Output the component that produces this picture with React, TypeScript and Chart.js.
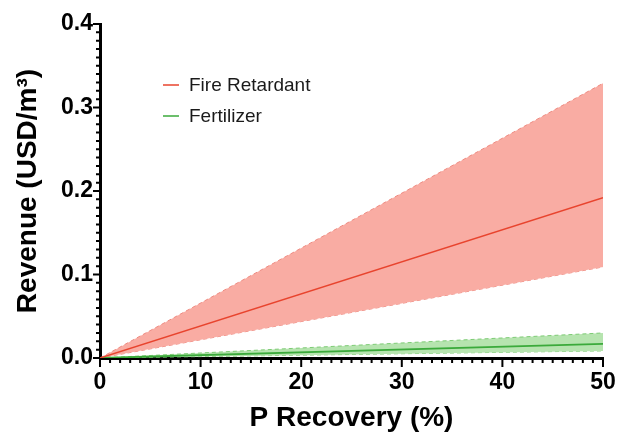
import React, { useEffect, useRef } from "react";
import { Chart, registerables } from "chart.js";

Chart.register(...registerables);

const recovery = [0, 50];
const fireMid = [0, 0.192];
const fireUpper = [0, 0.329];
const fireLower = [0, 0.109];
const fertMid = [0, 0.017];
const fertUpper = [0, 0.030];
const fertLower = [0, 0.0085];

const legendLabels = ["Fire Retardant", "Fertilizer"];
const xTicks = [0, 10, 20, 30, 40, 50];
const yTicks = [0, 0.1, 0.2, 0.3, 0.4];

const RED = "#E8442E";
const RED_EDGE = "#EE8A80";
const RED_FILL = "#F9ACA3";
const GREEN = "#3BAA3B";
const GREEN_EDGE = "#7DCB74";
const GREEN_FILL = "#B6E4AF";

const pts = (ys: number[]) => recovery.map((x, i) => ({ x, y: ys[i] }));

const tickPlugin = {
  id: "customTicks",
  afterDraw(chart: any) {
    const { ctx, scales } = chart;
    const xs = scales.x;
    const ys = scales.y;
    const axisX = chart.chartArea.left;
    const axisY = chart.chartArea.bottom;
    ctx.save();
    ctx.strokeStyle = "#000";
    ctx.lineWidth = 2;
    ctx.beginPath();
    for (let i = 0; i <= 40; i++) {
      const v = i / 100;
      const p = ys.getPixelForValue(v);
      const major = i % 10 === 0;
      ctx.moveTo(axisX - (major ? 7 : 4), p);
      ctx.lineTo(axisX, p);
    }
    for (let i = 0; i <= 50; i++) {
      const p = xs.getPixelForValue(i);
      const major = i % 10 === 0;
      ctx.moveTo(p, axisY);
      ctx.lineTo(p, axisY + (major ? 9 : 5));
    }
    ctx.stroke();
    // legend
    const colors = [RED, GREEN];
    const ly = [85, 116];
    ctx.font = "19px 'Liberation Sans', Arial, Helvetica, sans-serif";
    ctx.textBaseline = "middle";
    ctx.textAlign = "left";
    legendLabels.forEach((t, i) => {
      ctx.strokeStyle = colors[i];
      ctx.lineWidth = 1.5;
      ctx.beginPath();
      ctx.moveTo(163, ly[i]);
      ctx.lineTo(179, ly[i]);
      ctx.stroke();
      ctx.fillStyle = "#1a1a1a";
      ctx.fillText(t, 189, ly[i] + 1);
    });
    ctx.restore();
  },
};

export default function App() {
  const ref = useRef<HTMLCanvasElement>(null);
  useEffect(() => {
    if (!ref.current) return;
    const edge = (data: number[], color: string, fill: any, bg: string) => ({
      data: pts(data),
      borderColor: color,
      borderWidth: 1,
      borderDash: [4, 3],
      pointRadius: 0,
      fill,
      backgroundColor: bg,
      tension: 0,
      order: 2,
    });
    const chart = new Chart(ref.current, {
      type: "line",
      data: {
        datasets: [
          edge(fireUpper, RED_EDGE, "+1", RED_FILL),
          edge(fireLower, RED_EDGE, false, RED_FILL),
          { data: pts(fireMid), borderColor: RED, borderWidth: 1.5, pointRadius: 0, fill: false, order: 0 },
          edge(fertUpper, GREEN_EDGE, "+1", GREEN_FILL),
          edge(fertLower, GREEN_EDGE, false, GREEN_FILL),
          { data: pts(fertMid), borderColor: GREEN, borderWidth: 1.8, pointRadius: 0, fill: false, order: 0 },
        ] as any,
      },
      options: {
        animation: false,
        responsive: true,
        maintainAspectRatio: false,
        layout: { padding: { top: 24, right: 15, left: 0, bottom: 0 } },
        plugins: { legend: { display: false }, tooltip: { enabled: false } },
        scales: {
          x: {
            type: "linear",
            min: 0,
            max: 50,
            afterFit: (s: any) => {
              s.height = 77;
              s.paddingLeft = 0;
              s.paddingRight = 0;
            },
            afterBuildTicks: (s: any) => { s.ticks = xTicks.map((v) => ({ value: v })); },
            grid: { display: false, drawTicks: false },
            border: { display: true, width: 3, color: "#000" },
            ticks: {
              padding: 11,
              color: "#000",
              font: { family: "'Liberation Sans', Arial, sans-serif", size: 23, weight: "bold" },
              callback: (v: any) => String(v),
            },
            title: {
              display: true,
              text: "P Recovery (%)",
              color: "#000",
              padding: { top: 0, bottom: 0 },
              font: { family: "'Liberation Sans', Arial, sans-serif", size: 28, weight: "bold" },
            },
          },
          y: {
            type: "linear",
            min: 0,
            max: 0.4,
            afterFit: (s: any) => {
              s.width = 100;
              s.paddingTop = 0;
              s.paddingBottom = 0;
            },
            afterBuildTicks: (s: any) => { s.ticks = yTicks.map((v) => ({ value: v })); },
            grid: { display: false, drawTicks: false },
            border: { display: true, width: 3, color: "#000" },
            ticks: {
              padding: 7,
              color: "#000",
              font: { family: "'Liberation Sans', Arial, sans-serif", size: 23, weight: "bold" },
              callback: (v: any) => Number(v).toFixed(1),
            },
            title: {
              display: true,
              text: "Revenue (USD/m³)",
              color: "#000",
              padding: { top: 11, bottom: 0 },
              font: { family: "'Liberation Sans', Arial, sans-serif", size: 28, weight: "bold" },
            },
          },
        },
      },
      plugins: [tickPlugin],
    });
    return () => chart.destroy();
  }, []);
  return (
    <div style={{ position: "absolute", left: 0, top: 0, width: 618, height: 435, background: "#fff" }}>
      <canvas ref={ref} />
    </div>
  );
}
